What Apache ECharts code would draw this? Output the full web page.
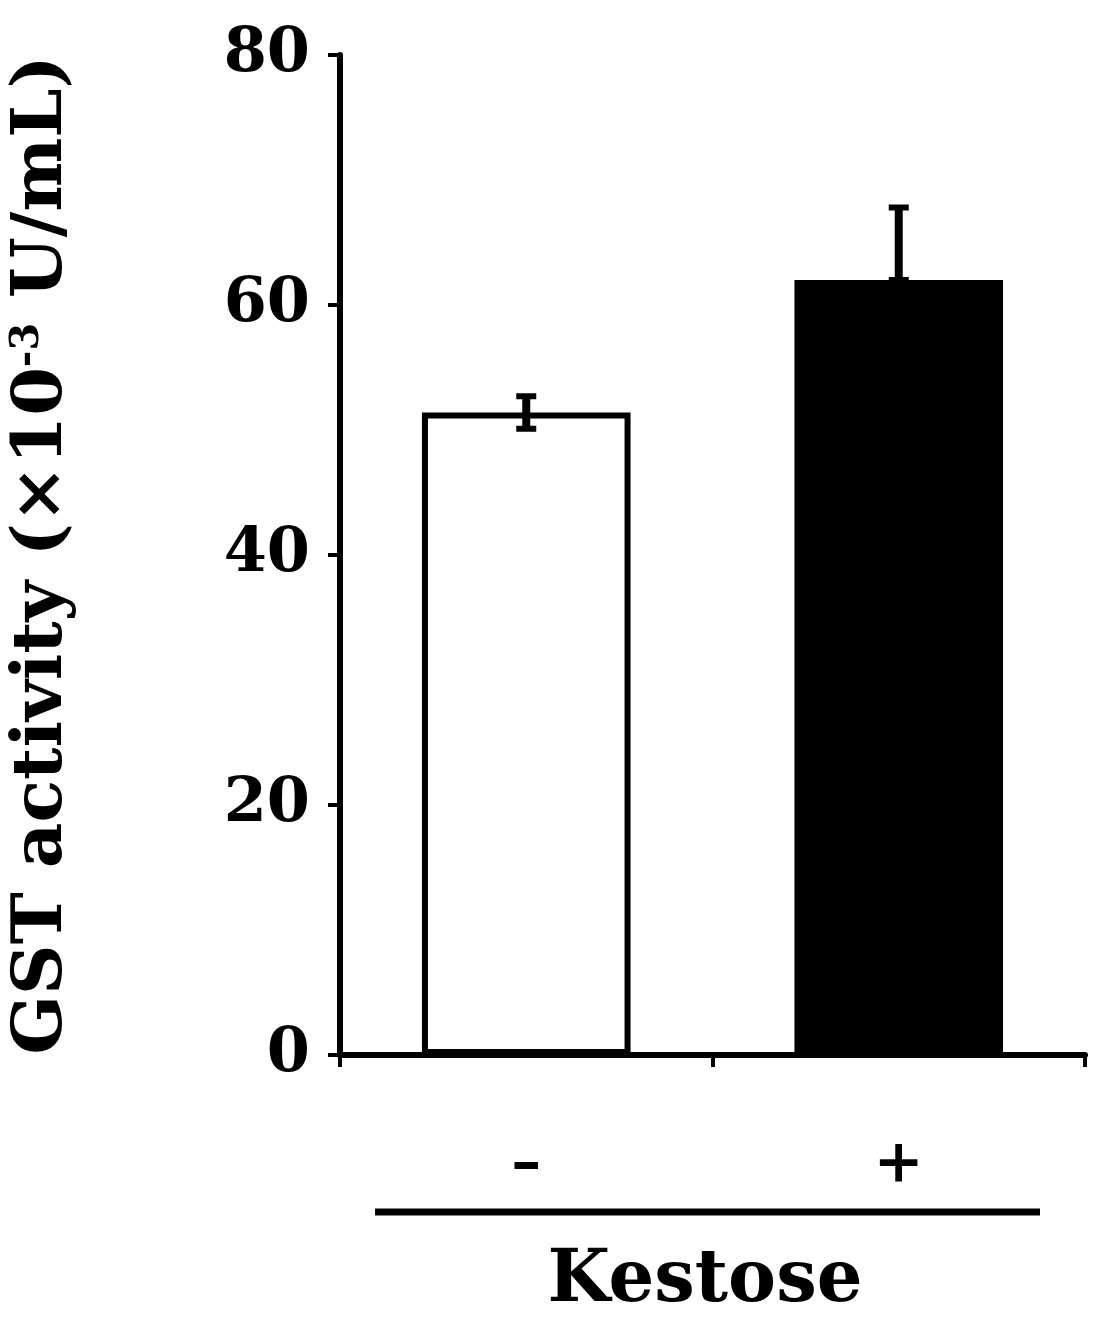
<!DOCTYPE html>
<html><head><meta charset="utf-8">
<script src="https://cdn.jsdelivr.net/npm/echarts@6/dist/echarts.min.js"></script>
<style>html,body{margin:0;padding:0;background:#fff}#c{width:1102px;height:1331px}</style>
</head><body><div id="c"></div>
<script>
const categories = ['–', '+'];
const values = [51.4, 62.0];
const errUp = [1.3, 5.8];
const errDown = [1.3, 0];
const yTicks = [0, 20, 40, 60, 80];
const font = '"DejaVu Serif", "Liberation Serif", serif';
const chart = echarts.init(document.getElementById('c'));
chart.setOption({
  animation: false,
  grid: {left: 320, right: 17, top: 55, bottom: 276},
  xAxis: {
    type: 'category', data: categories,
    axisLine: {lineStyle: {color: '#000', width: 6}},
    axisTick: {show: true, length: 12, lineStyle: {width: 4, color: '#000'}},
    axisLabel: {margin: 80, fontFamily: font, fontWeight: 'bold', fontSize: 60, color: '#000'}
  },
  yAxis: {
    type: 'value', min: 0, max: 80, interval: 20,
    name: '{a|GST activity (×10}{s|-3}{a| U/mL)}', nameLocation: 'middle', nameGap: 262, nameRotate: 90,
    nameTextStyle: {rich: {
      a: {fontFamily: font, fontWeight: 'bold', fontSize: 70, color: '#000'},
      s: {fontFamily: font, fontWeight: 'bold', fontSize: 40, color: '#000', verticalAlign: 'top', padding: [0,0,26,0]}
    }},
    axisLine: {show: true, lineStyle: {color: '#000', width: 6}},
    axisTick: {show: true, length: 12, lineStyle: {width: 4, color: '#000'}},
    splitLine: {show: false},
    axisLabel: {margin: 30, fontFamily: font, fontWeight: 'bold', fontSize: 62, color: '#000',
      formatter: v => yTicks.includes(v) ? String(v) : ''}
  },
  series: [{
    type: 'bar', barWidth: '56%', z: 2,
    data: values.map((v, i) => ({value: v, itemStyle: i === 0
      ? {color: '#fff', borderColor: '#000', borderWidth: 6}
      : {color: '#000', borderColor: '#000', borderWidth: 6}}))
  }, {
    type: 'custom', z: 3,
    data: values.map((v, i) => [i, v - errDown[i], v + errUp[i]]),
    renderItem: (params, api) => {
      const lo = api.coord([api.value(0), api.value(1)]);
      const hi = api.coord([api.value(0), api.value(2)]);
      const w = 10;
      return {type: 'group', children: [
        {type: 'line', shape: {x1: hi[0], y1: hi[1], x2: lo[0], y2: lo[1]}, style: {stroke: '#000', lineWidth: 8}},
        {type: 'line', shape: {x1: hi[0]-w, y1: hi[1], x2: hi[0]+w, y2: hi[1]}, style: {stroke: '#000', lineWidth: 6}},
        {type: 'line', shape: {x1: lo[0]-w, y1: lo[1], x2: lo[0]+w, y2: lo[1]}, style: {stroke: '#000', lineWidth: 6}}
      ]};
    }
  }],
  graphic: [
    {type: 'line', shape: {x1: 375, y1: 1212, x2: 1040, y2: 1212}, style: {stroke: '#000', lineWidth: 7}},
    {type: 'text', x: 705, y: 1282, style: {text: 'Kestose', fontFamily: font, fontWeight: 'bold', fontSize: 72, fill: '#000', align: 'center', verticalAlign: 'middle'}}
  ]
});
</script></body></html>
